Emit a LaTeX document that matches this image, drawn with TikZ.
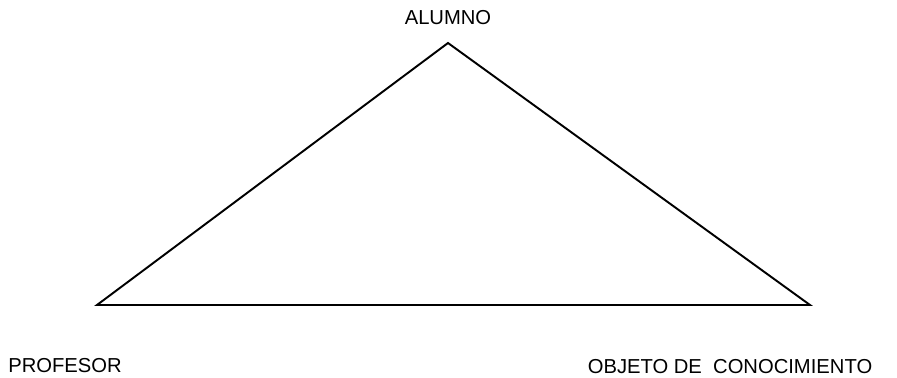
\documentclass[tikz,border=0pt]{standalone}
\usepackage{fontspec}
\setsansfont{Liberation Sans}
\usepackage{tikz}

\begin{document}
\begin{tikzpicture}[
		x=0.02cm,
		y=-0.02cm,
		font=\sffamily\fontsize{11.5}{13}\selectfont,
		side/.style={line width=1.1pt, line join=miter},
		lbl/.style={inner sep=0pt, text=black}
		]
		
		% frame of the page
		\useasboundingbox (0,0) rectangle (897,378);
		
		% corners of the triangle
		\coordinate (alumno) at (448,43);
		\coordinate (profesor) at (97,305);
		\coordinate (objeto) at (810,305);
		
		% triangle
		\draw[side] (profesor) -- (alumno) -- (objeto) -- cycle;
		
		% labels
		\node[lbl] (lalumno) at (448,18) {ALUMNO};
		\node[lbl, anchor=west] (lprofesor) at (8,366) {PROFESOR};
		\node[lbl] (lobjeto) at (730,367) {OBJETO DE\ \ CONOCIMIENTO};
		
	\end{tikzpicture}
\end{document}
